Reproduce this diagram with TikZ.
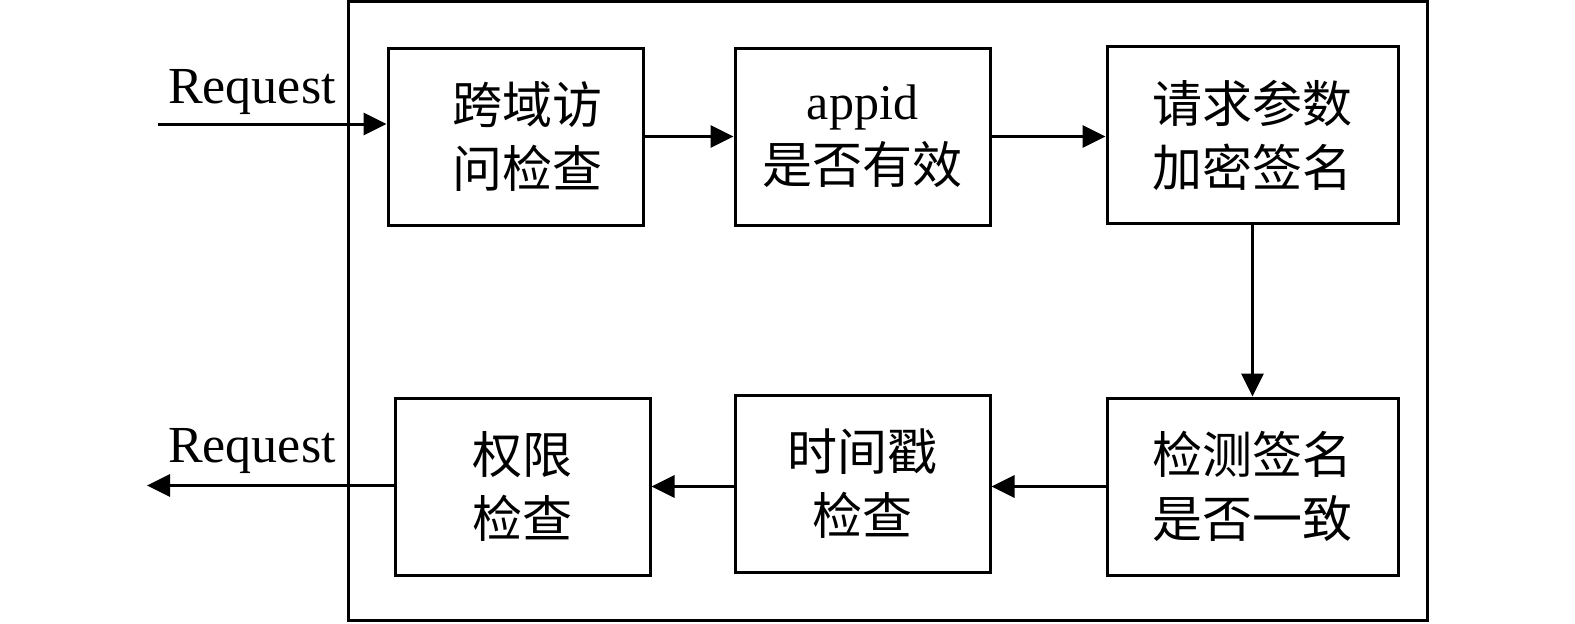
\documentclass[tikz,border=0pt]{standalone}
\usepackage{fontspec}
\setmainfont{Liberation Serif}
\newfontfamily\cjk{Noto Sans CJK SC}
\usetikzlibrary{arrows.meta}
\begin{document}
\begin{tikzpicture}[x=1pt,y=-1pt,
  box/.style={draw, line width=3pt, minimum width=255pt, minimum height=177pt, inner sep=0pt,
    align=center, font=\fontsize{50}{64}\selectfont},
  wide/.style={box, minimum width=291pt},
  flow/.style={line width=3pt, -{Triangle[length=23pt,width=22pt]}},
  lbl/.style={font=\fontsize{52}{60}\selectfont, inner sep=0pt, anchor=base west}]
\useasboundingbox (0,0) rectangle (1575,624);
\node[draw, line width=3pt, minimum width=1079pt, minimum height=619pt, inner sep=0pt] (frame) at (887.5,310.5) {};
\node[box] (b1) at (515.5,137) {\hspace*{24pt}\cjk 跨域访\\\hspace*{24pt}\cjk 问检查};
\node[box] (b2) at (862.5,136.5) {appid\\\cjk 是否有效};
\node[wide] (b3) at (1252.5,135) {\cjk 请求参数\\\cjk 加密签名};
\node[wide] (b4) at (1252.5,486.5) {\cjk 检测签名\\\cjk 是否一致};
\node[box] (b5) at (862.5,484) {\cjk 时间戳\\\cjk 检查};
\node[box] (b6) at (522.5,486.5) {\cjk 权限\\\cjk 检查};
\coordinate (in) at (158,124);
\coordinate (out) at (147,485.5);
\node[lbl] (t1) at (168,103) {Request};
\node[lbl] (t2) at (168,462) {Request};
\draw[flow] (in) -- (in -| b1.west);
\draw[flow] (b1.east |- b2.west) -- (b2.west);
\draw[flow] (b2.east) -- (b2.east -| b3.west);
\draw[flow] (b3.south) -- (b4.north);
\draw[flow] (b4.west) -- (b4.west -| b5.east);
\draw[flow] (b5.west |- b4.west) -- (b6.east |- b4.west);
\draw[flow] (b6.west |- out) -- (out);
\end{tikzpicture}
\end{document}
